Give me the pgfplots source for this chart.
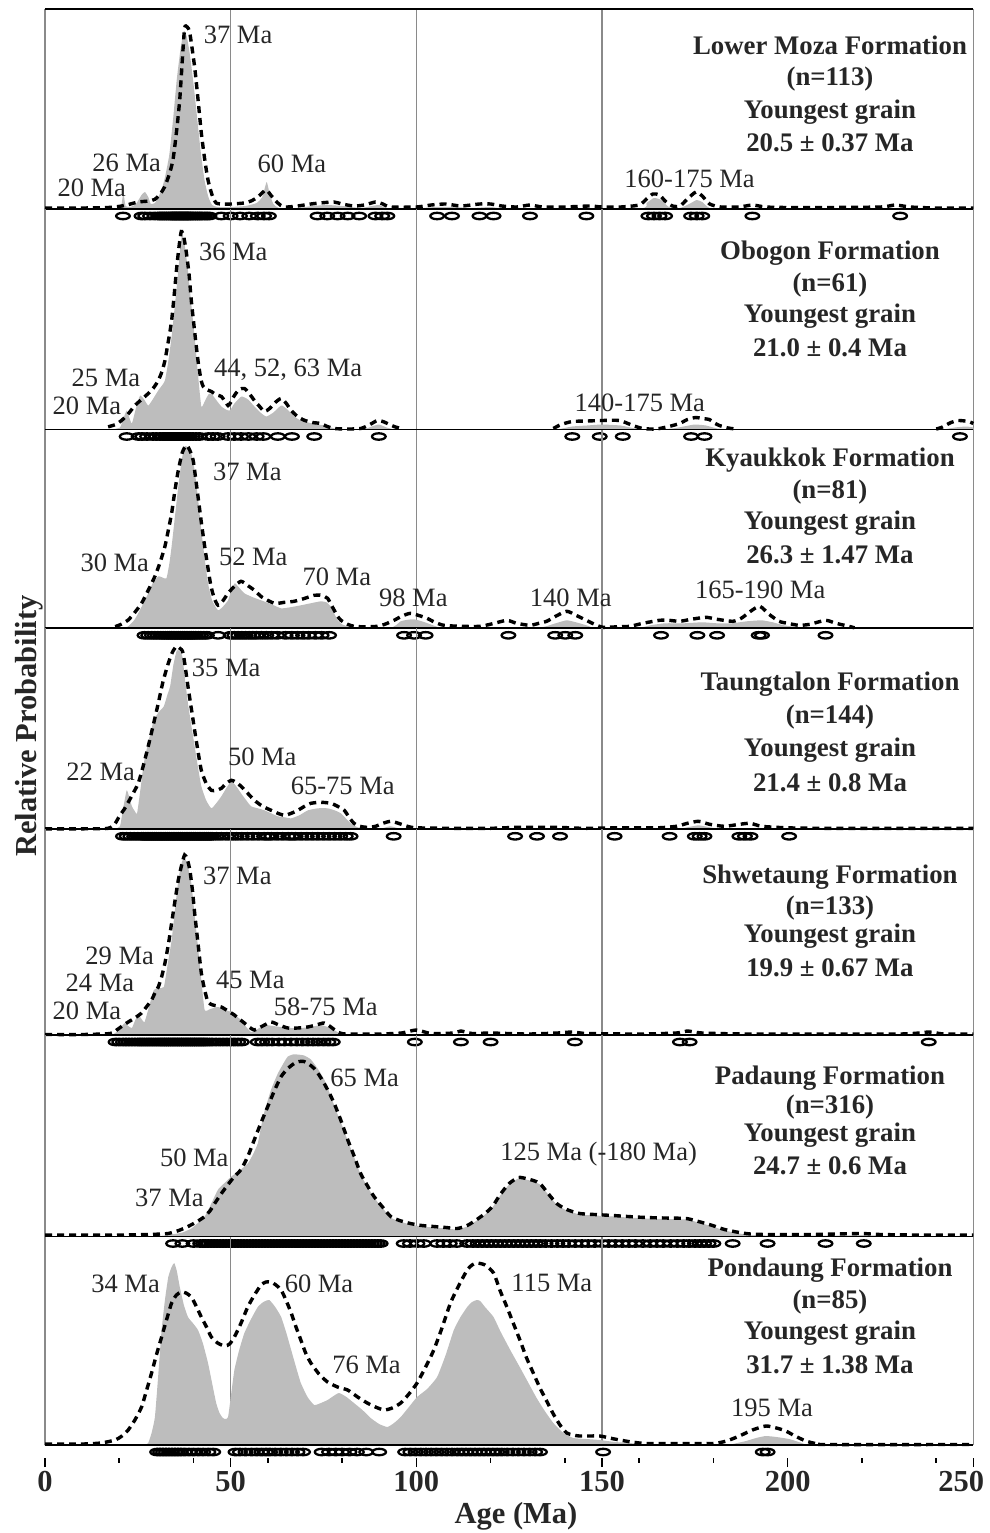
\documentclass[border=0pt]{standalone}
\usepackage{pgfplots}
\pgfplotsset{compat=1.18}
\usepackage{fontspec}
\setmainfont{Liberation Serif}
\definecolor{fillc}{HTML}{BDBDBD}
\definecolor{gridc}{HTML}{8A8A8A}
\definecolor{txt}{HTML}{262626}
\pgfdeclareplotmark{ell}{\pgfpathellipse{\pgfpointorigin}{\pgfqpoint{6.8pt}{0pt}}{\pgfqpoint{0pt}{3.2pt}}\pgfusepathqstroke}
\pgfplotsset{
  panel/.style={width=928.3pt, scale only axis, xmin=0, xmax=250, ymin=0, clip=false, anchor=south west, hide axis},
  fil/.style={fill=fillc, draw=none, smooth, tension=0.3},
  dsh/.style={black, line width=3.4pt, dash pattern=on 7pt off 5pt, smooth, tension=0.4},
  ells/.style={only marks, mark=ell, mark options={black, line width=2.3pt}},
}
\tikzset{
  lab/.style={font=\fontsize{26.5}{30}\selectfont, text=txt, inner sep=0pt},
  ttl/.style={font=\fontsize{26.8}{30}\selectfont\bfseries, text=txt, inner sep=0pt},
}
\newcommand{\panelframe}[1]{%
  \draw[gridc, line width=1.3pt] (axis cs:50,0) -- (axis cs:50,#1);
  \draw[gridc, line width=1.3pt] (axis cs:100,0) -- (axis cs:100,#1);
  \draw[gridc, line width=1.3pt] (axis cs:150,0) -- (axis cs:150,#1);
  \draw[gridc, line width=1.3pt] (axis cs:0,0) -- (axis cs:0,#1);
  \draw[gridc, line width=1.3pt] (axis cs:250,0) -- (axis cs:250,#1);
}
\newcommand{\panelbase}{\draw[black, line width=1.8pt] (axis cs:0,0) -- (axis cs:250,0);}
\begin{document}
\begin{tikzpicture}
\useasboundingbox (-45pt,0pt) rectangle (944pt,-1533pt);
% ---------------- Panel 1: Lower Moza
\begin{axis}[panel, height=200pt, ymax=200, at={(0pt,-209pt)}]
\panelframe{200}
\addplot[fil] coordinates {(15,0) (19,0.5) (20.5,3) (21.1,16) (21.7,3) (23,2) (24.5,5) (26,14) (26.9,17) (27.8,12) (28.5,5) (29.6,6) (30.5,12) (31.5,20) (32.5,35) (33.5,55) (34.5,90) (35.5,130) (36.5,160) (37.4,178) (38.2,172) (39,155) (40,125) (41,90) (42,55) (43,28) (44,12) (45,4) (46.5,2) (50,2) (54,3) (57,6) (58.5,12) (59.7,27) (60.5,15) (61.5,5) (63,1) (68,1) (72,3) (76,4) (80,3) (85,1) (88,3) (90,4) (92,1) (100,0.5) (105,2) (110,2) (115,1) (120,2) (125,0.5) (160,0.5) (162,6) (164,11) (166,9) (168,2) (171,1) (173.5,5) (175.5,9) (177,7) (179,1) (185,0)} \closedcycle;
\panelbase
\draw[black, line width=2.2pt] (axis cs:0,200) -- (axis cs:250,200);
\addplot[dsh] coordinates {(0,1) (10,1) (17,1.5) (19.8,2.5) (22,4) (25.1,7) (28,8) (29.6,9.7) (31,15) (32.2,22) (33.5,35) (34.5,50) (35.5,80) (36.3,110) (37,150) (37.6,181) (38.3,182) (39,176) (40.3,142) (41.2,110) (42.1,76) (43,50) (43.9,29) (45,14) (46.1,6) (48,5) (50.2,5) (53.6,6) (55.5,8) (57.3,12) (59.5,19) (61,13) (62.7,6) (64.4,2) (68,3) (71.6,5) (74,6) (77.8,7) (80,5) (83.2,3) (86,4) (89,7) (91,5) (93,2) (100,2) (104,4) (108,5) (112,3) (117,5) (120,5) (123,3) (127,2) (130.6,4) (134,2) (140,2) (146.7,3) (150,2) (155,2) (160,4) (162,10) (163.7,15) (165.5,14) (167,8) (169,3) (171,3) (173,10) (175.3,17) (177,13) (179,5) (182,2) (187,2) (190.5,4) (194,2) (200,1.5) (210,1.5) (225,2) (229,4) (233,2) (240,1) (250,1)};
\addplot[ells] coordinates {(21,-7) (26,-7) (27,-7) (28.3,-7) (29.5,-7) (30.5,-7) (31,-7) (31.5,-7) (32,-7) (32.5,-7) (33,-7) (33.5,-7) (34,-7) (34.3,-7) (34.6,-7) (35,-7) (35.3,-7) (35.6,-7) (36,-7) (36.3,-7) (36.6,-7) (37,-7) (37.3,-7) (37.6,-7) (38,-7) (38.3,-7) (38.6,-7) (39,-7) (39.4,-7) (39.8,-7) (40.3,-7) (40.8,-7) (41.3,-7) (41.8,-7) (42.3,-7) (43,-7) (43.6,-7) (44.3,-7) (47.5,-7) (50,-7) (52.5,-7) (55,-7) (57.3,-7) (59,-7) (60.3,-7) (73.4,-7) (76,-7) (78.8,-7) (81.5,-7) (84.6,-7) (89,-7) (90.8,-7) (92.2,-7) (105.6,-7) (109.6,-7) (117,-7) (120.8,-7) (130.6,-7) (145.8,-7) (162.5,-7) (164,-7) (165.5,-7) (167,-7) (174,-7) (175.5,-7) (177,-7) (190.5,-7) (230.3,-7)};
\node[lab] at (axis cs:52.0,174) {37 Ma};
\node[lab] at (axis cs:22.0,46) {26 Ma};
\node[lab] at (axis cs:12.6,21) {20 Ma};
\node[lab] at (axis cs:66.5,45) {60 Ma};
\node[lab] at (axis cs:173.6,30) {160-175 Ma};
\node[ttl] at (axis cs:211.4,164) {Lower Moza Formation};
\node[ttl] at (axis cs:211.4,130) {(n=113)};
\node[ttl] at (axis cs:211.4,97) {Youngest grain};
\node[ttl] at (axis cs:211.4,66) {20.5 ± 0.37 Ma};
\end{axis}
% ---------------- Panel 2: Obogon
\begin{axis}[panel, height=220.5pt, ymax=220.5, at={(0pt,-429.5pt)}]
\panelframe{220.5}
\addplot[fil] coordinates {(18,0) (20.2,2) (21,10) (22,19) (22.7,12) (23.4,6) (24.4,20) (25.6,34) (26.7,30) (27.8,24) (29,30) (30.5,39) (31.5,44) (32.3,49) (33.2,68) (34.1,93) (35,125) (35.9,159) (36.5,185) (37,196) (37.6,185) (38.5,159) (39.4,125) (40.3,93) (41.2,55) (42.1,23) (43,28) (44,35) (44.8,36) (46,30) (47.5,23) (48.7,20) (49.8,19) (51,26) (52.9,33) (54.7,30) (56.4,23) (58,17) (59.6,13) (61.5,17) (63.6,24) (65,21) (66.3,16) (67.5,12) (68.9,9) (72,6) (75.2,4) (78,1) (80,0)} \closedcycle;
\addplot[fil] coordinates {(86,0) (88,3) (89.9,5) (92,2) (94,0)} \closedcycle;
\addplot[fil] coordinates {(138,0) (142,3) (146,4) (150,5) (155,4) (159,1) (164,0) (169,1) (172,3) (175,5) (178,4) (181,1) (185,0)} \closedcycle;
\addplot[fil] coordinates {(242,0) (245,2) (248,3) (250,2) (250,0)} \closedcycle;
\panelbase
\addplot[dsh] coordinates {(17,2.7) (19,5) (20.7,9.3) (22.5,16) (24.2,24) (26,30) (27.8,36) (29.3,42) (30.5,49) (31.5,58) (32.3,69) (33.2,88) (34.1,109) (34.8,135) (35.4,159) (36,180) (36.7,198) (37.4,192) (38.1,176) (38.8,155) (39.4,129) (40.3,98) (41.2,69) (42,50) (42.6,43) (43.5,40) (44.8,38) (46,35) (47.5,33) (48.5,28) (49.3,24) (50,27) (51,34) (52.3,40) (53.7,41) (55,36) (56.4,29) (57.8,23) (59.1,18) (60.5,21) (62,27) (63.6,31) (65,26) (66.3,19) (68,13) (69.8,9.3) (72,7) (74.3,6) (76,3) (77.9,1) (81,0.5) (85,1) (87.5,5) (89.5,9) (91,8) (92.2,6) (94,3) (95.8,1)};
\addplot[dsh] coordinates {(136.9,1) (139,5) (142,8) (146,8.5) (150,9) (154.7,9) (158.3,4) (161,1) (164.6,0.5) (168,3) (170.9,6) (173,10) (175.3,12) (177,11) (178.9,10) (180.5,6) (181.6,4) (184,1.5) (186,0.5)};
\addplot[dsh] coordinates {(240,0.5) (241.4,2) (244,7) (246,9) (248.7,8) (250,6)};
\addplot[ells] coordinates {(22,-7) (25.2,-7) (26.2,-7) (27.5,-7) (29,-7) (30,-7) (31,-7) (31.7,-7) (32.4,-7) (33,-7) (33.5,-7) (34,-7) (34.5,-7) (35,-7) (35.5,-7) (36,-7) (36.5,-7) (37,-7) (37.5,-7) (38,-7) (38.5,-7) (39,-7) (39.8,-7) (40.7,-7) (41.6,-7) (44,-7) (45.2,-7) (46.5,-7) (49.3,-7) (51,-7) (52.8,-7) (54.8,-7) (57,-7) (58.8,-7) (62.7,-7) (66.5,-7) (72.5,-7) (89.9,-7) (142,-7) (149.4,-7) (155.6,-7) (174,-7) (177.6,-7) (246.4,-7)};
\node[lab] at (axis cs:50.7,177.5) {36 Ma};
\node[lab] at (axis cs:16.4,51.5) {25 Ma};
\node[lab] at (axis cs:11.3,23.5) {20 Ma};
\node[lab] at (axis cs:65.5,59.5) {44, 52, 63 Ma};
\node[lab] at (axis cs:160.2,26.5) {140-175 Ma};
\node[ttl] at (axis cs:211.4,176.5) {Obogon Formation};
\node[ttl] at (axis cs:211.4,144.5) {(n=61)};
\node[ttl] at (axis cs:211.4,113.5) {Youngest grain};
\node[ttl] at (axis cs:211.4,81.5) {21.0 ± 0.4 Ma};
\end{axis}
% ---------------- Panel 3: Kyaukkok
\begin{axis}[panel, height=198.8pt, ymax=198.8, at={(0pt,-628.3pt)}]
\panelframe{198.8}
\addplot[fil] coordinates {(21,0) (22.4,2) (24,8) (25.1,15) (26.5,25) (27.8,35) (29,45) (30.5,52) (31.5,51) (32.7,50) (33.5,65) (34.1,82) (35,112) (35.9,142) (36.8,168) (37.6,182) (38.9,180) (39.6,172) (40.3,158) (41.2,130) (42.1,98) (43,70) (43.9,45) (45,28) (46.6,18) (48,22) (49.3,28) (50.2,38) (51.1,45) (52.2,41) (53.7,35) (56,31) (58.2,28) (61,24) (63.6,20) (66,21) (68.9,23) (71.5,25) (74.3,27) (75.8,26) (76.9,22) (78,14) (78.8,8) (80,4) (81.4,2) (83,0)} \closedcycle;
\addplot[fil] coordinates {(93,0) (94.5,3) (95.8,7) (97.5,8.5) (99.4,9) (101.5,7) (103.8,4) (106,1) (108,0)} \closedcycle;
\addplot[fil] coordinates {(132,0) (135,2) (137.5,5) (140.5,8) (143,6) (145.8,3) (148,0)} \closedcycle;
\addplot[fil] coordinates {(160,0) (163,3) (167,5) (172,5) (177,6) (181,5) (185,5) (189,7) (193,8) (196,6) (199,3) (203,1) (207,0)} \closedcycle;
\panelbase
\addplot[dsh] coordinates {(18.9,1.7) (20.5,4) (22.4,8.3) (24,15) (26,25) (27.8,38) (29.6,52) (31,66) (32.3,82) (33.2,98) (34.1,115) (35,138) (35.9,158) (37,176) (38.1,183) (39,178) (39.9,168) (40.5,152) (41.2,132) (42.1,106) (43,82) (43.9,60) (44.7,42) (45.6,30) (46.6,23) (47.8,27) (49.3,35) (51,42) (52.8,47) (54.5,43) (56.4,38) (58.5,31) (61.8,25) (64.5,26) (67.1,27) (70,30) (72.5,33) (74.5,33) (76.1,30) (77,24) (77.9,18) (78.8,12) (79.7,8) (81.5,4) (83.2,2) (86,1.5) (89.5,2) (91.5,4) (94,8) (96,12) (98.4,15) (100.5,13) (102.9,10) (105,6) (107.4,3) (112,2) (117.2,2) (121,5) (124.4,8) (127,5) (130.6,3) (133,5) (135.1,7) (137.5,12) (140.5,17) (143,13) (145.8,8) (148,4) (150.3,1) (154,1.5) (157.5,2) (161,5) (165.5,8) (168,8) (170.9,7) (174,9) (178,11) (181,9) (185.2,7) (187.5,10) (190,17) (192.5,22) (195,14) (197.7,7) (200,5) (203,3) (206,4) (210.2,8) (213,5) (216.5,2) (218,0.5)};
\addplot[ells] coordinates {(26.8,-7) (27.8,-7) (28.8,-7) (29.6,-7) (30.4,-7) (31.2,-7) (31.8,-7) (32.4,-7) (33,-7) (33.5,-7) (34,-7) (34.5,-7) (35,-7) (35.5,-7) (36,-7) (36.5,-7) (37,-7) (37.5,-7) (38,-7) (38.5,-7) (39,-7) (39.5,-7) (40,-7) (40.6,-7) (41.3,-7) (42,-7) (42.8,-7) (43.6,-7) (46.6,-7) (50,-7) (51,-7) (52,-7) (53,-7) (54,-7) (55,-7) (56,-7) (57,-7) (58.3,-7) (59.6,-7) (61,-7) (62.5,-7) (64.8,-7) (66.5,-7) (68,-7) (69.5,-7) (71,-7) (72.8,-7) (74.5,-7) (76.5,-7) (96.7,-7) (99.4,-7) (102.5,-7) (124.8,-7) (137.4,-7) (140.1,-7) (142.8,-7) (165.9,-7) (175.7,-7) (181,-7) (192.2,-7) (193.1,-7) (210.2,-7)};
\node[lab] at (axis cs:54.5,156) {37 Ma};
\node[lab] at (axis cs:18.8,65) {30 Ma};
\node[lab] at (axis cs:56.1,71) {52 Ma};
\node[lab] at (axis cs:78.6,51) {70 Ma};
\node[lab] at (axis cs:99.2,30) {98 Ma};
\node[lab] at (axis cs:141.6,30) {140 Ma};
\node[lab] at (axis cs:192.6,38) {165-190 Ma};
\node[ttl] at (axis cs:211.4,168) {Kyaukkok Formation};
\node[ttl] at (axis cs:211.4,136) {(n=81)};
\node[ttl] at (axis cs:211.4,105) {Youngest grain};
\node[ttl] at (axis cs:211.4,73) {26.3 ± 1.47 Ma};
\end{axis}
% ---------------- Panel 4: Taungtalon
\begin{axis}[panel, height=201pt, ymax=201, at={(0pt,-829.3pt)}]
\panelframe{201}
\addplot[fil] coordinates {(17,0) (19,1) (20.2,3) (21,20) (22,39) (22.7,32) (23.4,23) (24.2,18) (24.8,16) (25.7,40) (26.6,66) (28,90) (29.3,109) (30.6,117) (32,123) (33,135) (33.7,143) (34.6,165) (35.5,179) (36.3,178) (37,173) (37.7,150) (38.5,126) (39.4,104) (40.3,83) (41.2,62) (42.1,43) (43.4,29) (44.8,21) (46.1,26) (47.5,33) (48.8,41) (50.2,48) (51.5,43) (52.8,36) (54.2,29) (55.5,23) (57.3,21) (59.1,19) (60.9,16) (62.7,13) (64.5,12) (66.3,11) (68.5,14) (70.8,19) (73.5,21) (76.1,21) (78,19) (79.7,16) (81,11) (82.3,6) (83.6,3) (85,1) (87,0)} \closedcycle;
\addplot[fil] coordinates {(90,0) (93,3) (96,0)} \closedcycle;
\addplot[fil] coordinates {(170,0) (173,2) (176,4) (179,2) (182,0)} \closedcycle;
\panelbase
\addplot[dsh] coordinates {(0,0.5) (10,0.5) (17,1) (18.9,6) (20,13) (21.5,21) (23.3,33) (25.1,46) (26.5,64) (27.8,83) (29.2,105) (30.5,126) (31.8,148) (33.2,166) (34.3,177) (35.4,183) (36.3,181) (37.2,176) (38.5,143) (39.4,121) (40.3,99) (41.2,78) (42.1,59) (43.4,46) (44.8,39) (46.1,39) (47.5,41) (48.8,46) (50.2,49) (51.5,47) (52.8,43) (54.6,36) (56.4,29) (58.6,23) (60.9,19) (62.7,16) (64.5,14) (66.3,16) (68.1,19) (69.9,23) (71.6,26) (74.3,27) (77,26) (78.8,23) (80.6,19) (81.9,12) (83.2,6) (84.8,3) (86.8,2) (89,3) (91,6) (93.1,8) (95.2,6) (97.6,3) (100,1.5) (110,1) (120,1) (127,2) (132,2) (138,2) (145,1) (155,1.5) (165,1.5) (170,3) (173,6) (176,8) (179,5) (183,3) (187,5) (190,6) (193,3) (200,1.5) (210,1) (250,1)};
\addplot[ells] coordinates {(21,-7) (22,-7) (23,-7) (24,-7) (25,-7) (26,-7) (26.5,-7) (27,-7) (27.5,-7) (28,-7) (28.5,-7) (29,-7) (29.5,-7) (30,-7) (30.5,-7) (31,-7) (31.5,-7) (32,-7) (32.5,-7) (33,-7) (33.5,-7) (34,-7) (34.5,-7) (35,-7) (35.5,-7) (36,-7) (36.5,-7) (37,-7) (37.5,-7) (38,-7) (38.5,-7) (39,-7) (39.5,-7) (40,-7) (40.5,-7) (41,-7) (41.5,-7) (42,-7) (42.5,-7) (43,-7) (43.5,-7) (44,-7) (44.5,-7) (45,-7) (46.2,-7) (47.5,-7) (49,-7) (50.3,-7) (51.6,-7) (53,-7) (54.5,-7) (56,-7) (57.5,-7) (59,-7) (60,-7) (61,-7) (62.5,-7) (64,-7) (65.5,-7) (66.5,-7) (67.5,-7) (69,-7) (70.5,-7) (72,-7) (73.5,-7) (75,-7) (76.5,-7) (78,-7) (79.5,-7) (81,-7) (82.3,-7) (93.9,-7) (126.6,-7) (132.5,-7) (138.7,-7) (153.4,-7) (168.2,-7) (175,-7) (176.3,-7) (177.6,-7) (187,-7) (188.5,-7) (190,-7) (200.4,-7)};
\node[lab] at (axis cs:48.8,161) {35 Ma};
\node[lab] at (axis cs:15.0,57) {22 Ma};
\node[lab] at (axis cs:58.5,72) {50 Ma};
\node[lab] at (axis cs:80.2,43) {65-75 Ma};
\node[ttl] at (axis cs:211.4,145) {Taungtalon Formation};
\node[ttl] at (axis cs:211.4,112) {(n=144)};
\node[ttl] at (axis cs:211.4,79) {Youngest grain};
\node[ttl] at (axis cs:211.4,47) {21.4 ± 0.8 Ma};
\end{axis}
% ---------------- Panel 5: Shwetaung
\begin{axis}[panel, height=205.7pt, ymax=205.7, at={(0pt,-1035pt)}]
\panelframe{205.7}
\addplot[fil] coordinates {(18,0) (19.3,3) (20.5,8) (21.5,12) (22.4,9) (23.4,7) (24.2,14) (25.1,20) (26,16) (26.8,13) (28,28) (29.3,45) (30.6,47) (32,48) (33,70) (34.1,95) (35,125) (35.9,155) (36.8,172) (37.6,178) (38.5,168) (39.4,152) (40.3,120) (41.2,88) (42.1,55) (43,25) (44.5,26) (46.6,28) (48.5,25) (50.2,23) (51.5,19) (52.8,15) (54.2,8) (55.5,3) (57.3,6) (59.1,10) (61.4,9) (63.6,8) (66.3,7) (68.9,7) (71.6,8) (74.3,10) (76.1,8) (77.9,5) (79.5,1) (81,0)} \closedcycle;
\panelbase
\addplot[dsh] coordinates {(0,0.5) (10,0.5) (17.5,1.5) (19.3,5) (20.8,9) (22.4,13) (24.2,17) (26,22) (27.3,28) (28.7,35) (29.6,42) (30.5,48) (31.4,58) (32.3,72) (33.2,90) (34.1,112) (35,134) (35.9,155) (36.8,170) (37.6,180) (38.3,176) (39,165) (39.7,145) (40.3,122) (41.2,92) (42.1,62) (43,45) (43.9,33) (45.2,30) (46.5,29) (47.5,28) (49.3,24) (51,20) (52.3,16) (53.7,12) (55,8) (56.4,5) (58.6,9) (60.9,13) (63,10) (65.4,7) (68,7) (70.7,8) (73,10) (75.2,12) (77,8) (78.8,3) (81,1) (90,1) (96,2) (100,5) (104,1.5) (110,2) (112,4) (115,1.5) (120,2) (130,1) (138,2) (142,3) (146,1.5) (160,1) (170,2) (173,4) (177,2) (190,1) (230,1) (238,3) (242,1) (250,1)};
\addplot[ells] coordinates {(19,-7) (20,-7) (21,-7) (21.8,-7) (22.6,-7) (23.4,-7) (24.2,-7) (25,-7) (25.6,-7) (26.2,-7) (26.8,-7) (27.4,-7) (28,-7) (28.6,-7) (29.2,-7) (29.8,-7) (30.4,-7) (31,-7) (31.5,-7) (32,-7) (32.5,-7) (33,-7) (33.5,-7) (34,-7) (34.5,-7) (35,-7) (35.5,-7) (36,-7) (36.5,-7) (37,-7) (37.5,-7) (38,-7) (38.5,-7) (39,-7) (39.5,-7) (40,-7) (40.5,-7) (41,-7) (41.5,-7) (42,-7) (42.5,-7) (43,-7) (43.6,-7) (44.3,-7) (45,-7) (46,-7) (47,-7) (48,-7) (49,-7) (50,-7) (51,-7) (52,-7) (53,-7) (57.3,-7) (58.5,-7) (59.8,-7) (61.2,-7) (63,-7) (64.5,-7) (66.3,-7) (67.8,-7) (69.3,-7) (70.8,-7) (72.2,-7) (73.6,-7) (75,-7) (76.3,-7) (77.5,-7) (99.6,-7) (112,-7) (120,-7) (142.7,-7) (171,-7) (173.6,-7) (238,-7)};
\node[lab] at (axis cs:51.8,159) {37 Ma};
\node[lab] at (axis cs:20.1,79) {29 Ma};
\node[lab] at (axis cs:14.8,52) {24 Ma};
\node[lab] at (axis cs:11.3,24) {20 Ma};
\node[lab] at (axis cs:55.3,55) {45 Ma};
\node[lab] at (axis cs:75.6,28) {58-75 Ma};
\node[ttl] at (axis cs:211.4,158) {Shwetaung Formation};
\node[ttl] at (axis cs:211.4,127) {(n=133)};
\node[ttl] at (axis cs:211.4,99) {Youngest grain};
\node[ttl] at (axis cs:211.4,67) {19.9 ± 0.67 Ma};
\end{axis}
% ---------------- Panel 6: Padaung
\begin{axis}[panel, height=201.5pt, ymax=201.5, at={(0pt,-1236.5pt)}]
\panelframe{201.5}
\addplot[fil] coordinates {(30,0) (34,2) (37,4) (39.4,8) (41,13) (43,20) (44.8,33) (46.6,47) (48.5,54) (50.2,60) (52.4,66) (54.6,73) (56,82) (57.3,93) (58.2,110) (59.1,125) (60.9,147) (62.7,163) (64.5,175) (65.4,180) (66.7,182) (68,182) (69.8,181) (71.6,177) (73.4,168) (75.2,157) (77,140) (78.5,125) (79.7,114) (81.5,96) (83.3,79) (85,62) (86.8,50) (88.6,39) (90.8,29) (93.1,19) (95.5,15) (98.4,12) (101.5,10) (104.7,9) (108,8) (111,7) (113.7,10) (116.3,16) (118.5,22) (120.5,29) (122.6,41) (125,52) (127.5,58) (129.5,57) (131.5,55) (133.3,52) (135.5,42) (137.8,32) (140.5,26) (144,22) (148,21) (153,20) (157,19) (161.9,18) (167,17.5) (172.7,17) (176,14) (179.8,10) (183,6) (187,3) (190,1.5) (194,1) (200,1) (215,1) (220,1.5) (230,0)} \closedcycle;
\panelbase
\addplot[dsh] coordinates {(0,1.5) (10,1.5) (20,1.5) (28,2) (31,2.5) (33.2,3) (36,6) (38.5,10) (41,15) (43,20) (44.5,26) (45.7,33) (47.5,43) (49.3,52) (51,60) (52.8,67) (54.6,80) (56.4,97) (58.2,114) (60,130) (61.8,146) (63.6,160) (65.4,168) (67.1,173) (68.5,175) (69.8,175) (71.2,172) (72.5,168) (73.9,161) (75.2,153) (76.5,144) (77.9,133) (79.7,116) (81.5,97) (83.3,80) (85,63) (86.8,51) (88.6,40) (90.8,30) (93.1,20) (95.5,16) (98.4,13) (101.5,11) (104.7,10) (108,9) (111,8) (113.7,11) (116.3,17) (118.5,23) (120.5,30) (122.6,42) (125,53) (127.5,59) (129.5,58) (131.5,56) (133.3,53) (135.5,43) (137.8,33) (140.5,27) (144,23) (148,22) (153,21) (157,20) (161.9,19) (167,18.5) (172.7,18) (176,15) (179.8,11) (183,7) (187,4) (190,2.5) (194.1,2) (200,2) (206.6,2) (213,2.5) (220,3) (225,2) (235,1.5) (250,1.5)};
\addplot[ells] coordinates {(34.5,-7) (37,-7) (40,-7) (41.8,-7) (42.6,-7) (43.2,-7) (44,-7) (44.8,-7) (45.6,-7) (46.4,-7) (47.2,-7) (48,-7) (48.8,-7) (49.6,-7) (50.4,-7) (51.2,-7) (52,-7) (52.8,-7) (53.6,-7) (54.4,-7) (55.2,-7) (56,-7) (56.8,-7) (57.6,-7) (58.4,-7) (59.2,-7) (60,-7) (60.8,-7) (61.6,-7) (62.4,-7) (63.2,-7) (64,-7) (64.8,-7) (65.6,-7) (66.4,-7) (67.2,-7) (68,-7) (68.8,-7) (69.6,-7) (70.4,-7) (71.2,-7) (72,-7) (72.8,-7) (73.6,-7) (74.4,-7) (75.2,-7) (76,-7) (76.8,-7) (77.6,-7) (78.4,-7) (79.2,-7) (80,-7) (80.8,-7) (81.6,-7) (82.4,-7) (83.2,-7) (84,-7) (84.8,-7) (85.6,-7) (86.4,-7) (87.2,-7) (88,-7) (88.8,-7) (89.6,-7) (90.4,-7) (96.6,-7) (98.3,-7) (100.3,-7) (102,-7) (105.6,-7) (107.3,-7) (109,-7) (110.9,-7) (113.7,-7) (115.2,-7) (116.5,-7) (117.8,-7) (119,-7) (120.2,-7) (121.4,-7) (122.6,-7) (123.8,-7) (125,-7) (126.2,-7) (127.4,-7) (128.6,-7) (129.8,-7) (131,-7) (132.2,-7) (133.4,-7) (134.8,-7) (136.4,-7) (138,-7) (139.5,-7) (141,-7) (142.8,-7) (144.6,-7) (146.3,-7) (148,-7) (150,-7) (151.8,-7) (153.6,-7) (155.5,-7) (157.3,-7) (159,-7) (161,-7) (163,-7) (164.8,-7) (166.5,-7) (168.5,-7) (170.3,-7) (172,-7) (173.5,-7) (175,-7) (176.3,-7) (177.5,-7) (178.7,-7) (180,-7) (185.2,-7) (194.6,-7) (210.2,-7) (220.5,-7)};
\node[lab] at (axis cs:86.1,158.5) {65 Ma};
\node[lab] at (axis cs:40.2,78.5) {50 Ma};
\node[lab] at (axis cs:33.5,38.5) {37 Ma};
\node[lab] at (axis cs:149.1,82.5) {125 Ma (-180 Ma)};
\node[ttl] at (axis cs:211.4,158.5) {Padaung Formation};
\node[ttl] at (axis cs:211.4,129.5) {(n=316)};
\node[ttl] at (axis cs:211.4,101.5) {Youngest grain};
\node[ttl] at (axis cs:211.4,70.5) {24.7 ± 0.6 Ma};
\end{axis}
% ---------------- Panel 7: Pondaung
\begin{axis}[width=928.3pt, scale only axis, xmin=0, xmax=250, ymin=-13, ymax=208.5, height=221.5pt, clip=false, anchor=south west, at={(0pt,-1458pt)},
  axis x line*=bottom, hide y axis, x axis line style={draw=none},
  xtick={0,50,100,150,200,250}, minor xtick={20,40,60,80,120,140,160,180,220,240},
  xticklabels={0,50,100,150,200,\kern-24pt\relax 250},
  tick align=outside, major tick length=9pt, minor tick length=4.5pt,
  tick style={black, line width=1.6pt},
  xticklabel style={font=\fontsize{30.5}{31}\selectfont\bfseries, text=txt, yshift=-1pt}]
\panelframe{208.5}
\addplot[fil] coordinates {(27,0) (27.8,2) (28.7,12) (29.6,28) (30.5,70) (31.4,115) (32.3,145) (33.2,168) (34.1,178) (34.8,182) (35.5,174) (36.3,158) (37.4,140) (38.5,128) (39.8,122) (41.2,115) (42.5,102) (43.9,82) (45,62) (46.1,42) (47,32) (47.9,27) (48.6,26) (49.3,28) (50.1,50) (51,75) (52.3,95) (53.7,112) (55.5,126) (57.3,138) (58.8,143) (60.4,145) (62,138) (63.6,128) (65,112) (66.3,95) (67.6,78) (68.9,62) (70.7,48) (72.5,40) (74.3,42) (76.1,45) (77.7,49) (79.2,52) (81.2,48) (83.2,42) (85.5,35) (87.7,27) (90,21) (92.2,18) (94,22) (95.8,28) (98,38) (100.2,48) (102.9,56) (105.6,68) (107.9,90) (110.1,115) (111.9,128) (113.7,138) (115,143) (116.3,145) (117.2,144) (118.5,138) (120.8,128) (122.6,114) (125.3,95) (128,77) (130.2,62) (132.4,47) (134.6,34) (136.9,22) (139.6,12) (142.3,7) (145.8,6) (149.4,5) (153.5,3) (157.5,2) (161.9,0)} \closedcycle;
\addplot[fil] coordinates {(184,0) (188.8,4) (191.5,7) (194.1,9) (197,8) (200.4,6) (203,3) (205.2,0)} \closedcycle;
\panelbase
\addplot[dsh] coordinates {(0,1) (10,1) (15,2) (18.9,5) (20.7,9) (22.4,15) (24.2,25) (26,38) (27.3,54) (28.7,72) (30,90) (31.4,108) (32.8,126) (34.1,142) (35.4,150) (36.7,153) (38,152) (39.4,148) (40.7,139) (42.1,128) (43.5,118) (44.8,108) (46.5,102) (48.4,99) (49.7,101) (51,108) (52.8,122) (54.6,138) (56.4,150) (58.2,160) (59.5,163) (60.9,163) (62.2,160) (63.6,155) (65,144) (66.3,132) (67.6,118) (68.9,105) (70.2,92) (71.6,82) (73.8,71) (76.1,63) (78.8,58) (81.5,55) (84.2,48) (86.8,42) (89,38) (91.3,35) (93.5,37) (95.8,42) (98,51) (100.2,62) (102.5,78) (104.7,95) (107,118) (109.2,142) (111.5,160) (113.7,175) (115,180) (116.3,182) (118.5,180) (120.8,172) (122.6,154) (124.4,138) (126.2,121) (128,104) (129.7,87) (131.5,72) (133.3,57) (135.1,44) (136.9,31) (138.7,20) (140.5,12) (142.3,10) (144,9) (149.4,9) (152,7) (154.8,5) (158,3) (161.9,1.5) (170,1.5) (179.8,1.5) (183.5,4) (187,9) (190.5,15) (194.1,19) (197,17) (199.5,14) (202,9) (204.9,4) (207.5,1.5) (210.2,0.5) (250,0.5)};
\addplot[ells] coordinates {(30.2,-7) (31,-7) (31.8,-7) (32.6,-7) (33.4,-7) (34.2,-7) (35,-7) (35.8,-7) (36.6,-7) (37.6,-7) (38.8,-7) (40,-7) (41.3,-7) (42.6,-7) (44,-7) (45.3,-7) (51.3,-7) (52.5,-7) (54,-7) (55.6,-7) (57,-7) (58.3,-7) (59.5,-7) (60.6,-7) (62,-7) (63.5,-7) (65,-7) (66.5,-7) (68,-7) (69.5,-7) (74.5,-7) (76.5,-7) (78.3,-7) (80,-7) (82,-7) (84,-7) (86.5,-7) (90,-7) (97,-7) (98.4,-7) (99.8,-7) (101.2,-7) (102.6,-7) (104,-7) (105.4,-7) (106.8,-7) (108.2,-7) (109.6,-7) (111,-7) (112.2,-7) (113.4,-7) (114.6,-7) (115.8,-7) (117,-7) (118.2,-7) (119.4,-7) (120.6,-7) (121.8,-7) (123,-7) (124.5,-7) (126,-7) (127.5,-7) (129,-7) (130.5,-7) (132,-7) (133.3,-7) (150.3,-7) (193.3,-7) (194.6,-7)};
\node[lab] at (axis cs:21.7,161) {34 Ma};
\node[lab] at (axis cs:73.8,161) {60 Ma};
\node[lab] at (axis cs:86.6,80) {76 Ma};
\node[lab] at (axis cs:136.5,162) {115 Ma};
\node[lab] at (axis cs:195.8,37) {195 Ma};
\node[ttl] at (axis cs:211.4,175) {Pondaung Formation};
\node[ttl] at (axis cs:211.4,143) {(n=85)};
\node[ttl] at (axis cs:211.4,112) {Youngest grain};
\node[ttl] at (axis cs:211.4,80) {31.7 ± 1.38 Ma};
\end{axis}
\node[font=\fontsize{30.5}{31}\selectfont\bfseries, text=txt] at (471pt,-1516pt) {Age (Ma)};
\node[font=\fontsize{30.5}{31}\selectfont\bfseries, text=txt, rotate=90] at (-16pt,-726pt) {Relative Probability};
\end{tikzpicture}
\end{document}
